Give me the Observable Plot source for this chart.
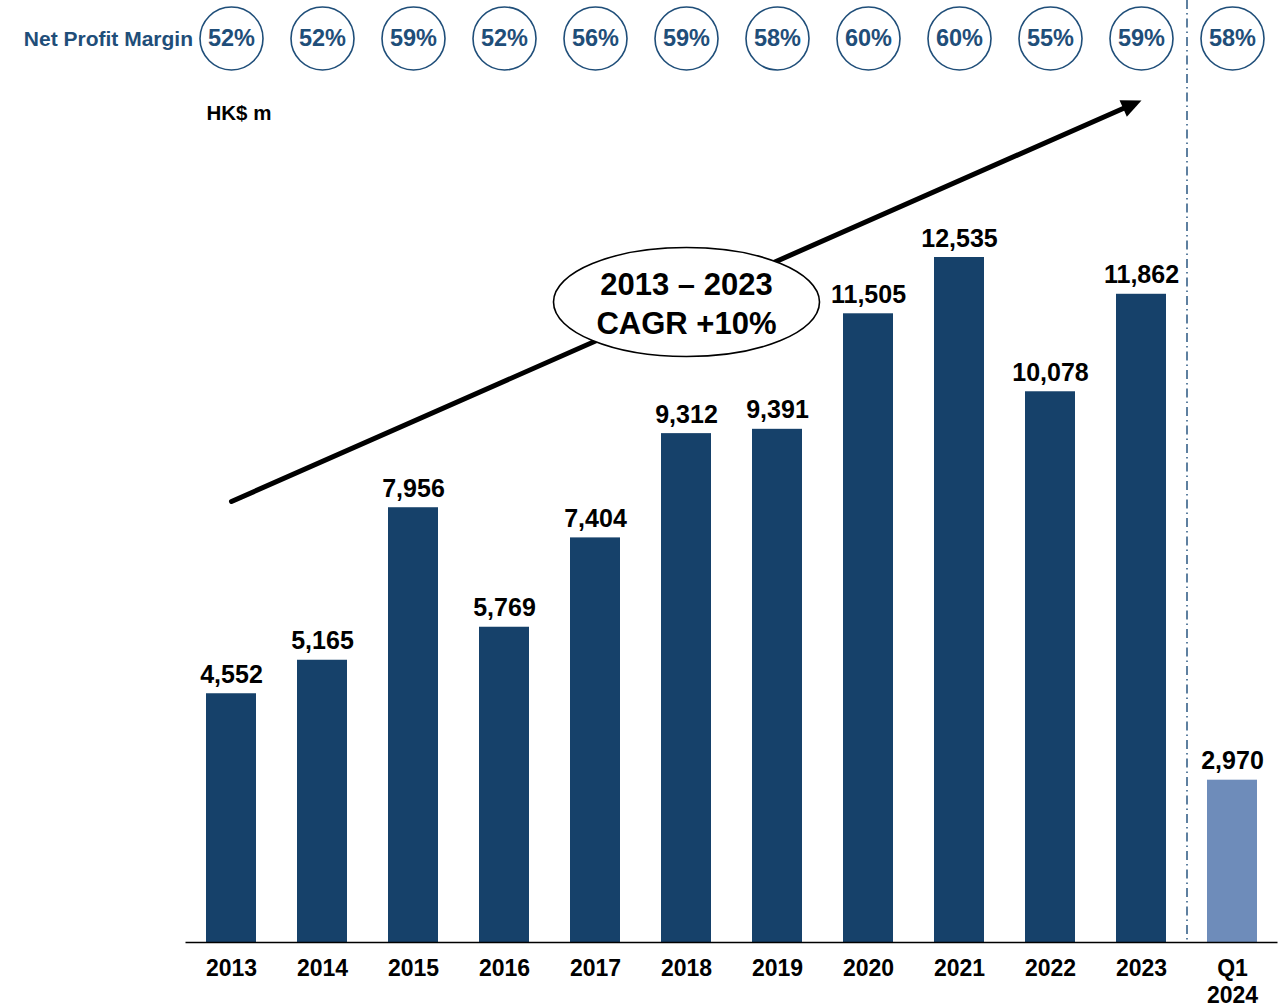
<!DOCTYPE html>
<html>
<head>
<meta charset="utf-8">
<script src="https://cdn.jsdelivr.net/npm/d3@7"></script>
<script src="https://cdn.jsdelivr.net/npm/@observablehq/plot@0.6"></script>
<style>
  html, body { margin: 0; padding: 0; background: #fff; }
  #chart svg { display: block; }
</style>
</head>
<body>
<div id="chart"></div>
<script>
// ---- data ----
const categories = ["2013", "2014", "2015", "2016", "2017", "2018", "2019", "2020", "2021", "2022", "2023", "Q1\n2024"];
const netProfit = [4552, 5165, 7956, 5769, 7404, 9312, 9391, 11505, 12535, 10078, 11862, 2970];
const netProfitMargin = [52, 52, 59, 52, 56, 59, 58, 60, 60, 55, 59, 58];
const periodType = ["year", "year", "year", "year", "year", "year", "year", "year", "year", "year", "year", "quarter"];
const marginLabel = "Net Profit Margin";
const unitLabel = "HK$ m";
const cagrText = "2013 \u2013 2023\nCAGR +10%";
// annotation anchors (category, value in HK$ m)
const cagrArrow = [{from: "2013", to: "2023", v1: 8070, v2: 15410}];
const cagrBubble = [{category: "2018", value: 11720}];

// ---- styles ----
const navy = "#16416a";
const lightBlue = "#6e8cba";
const ringBlue = "#1f4e79";
const fontFamily = "'Liberation Sans', Arial, Helvetica, sans-serif";

const rows = categories.map((c, i) => ({
  category: c,
  profit: netProfit[i],
  margin: netProfitMargin[i],
  period: periodType[i]
}));

// custom symbols
const ellipseSymbol = {
  draw(ctx) {
    const rx = 133, ry = 54.5, k = 0.5523;
    ctx.moveTo(rx, 0);
    ctx.bezierCurveTo(rx, ry * k, rx * k, ry, 0, ry);
    ctx.bezierCurveTo(-rx * k, ry, -rx, ry * k, -rx, 0);
    ctx.bezierCurveTo(-rx, -ry * k, -rx * k, -ry, 0, -ry);
    ctx.bezierCurveTo(rx * k, -ry, rx, -ry * k, rx, 0);
    ctx.closePath();
  }
};
const headSymbol = {
  draw(ctx) {
    const L = 20, W = 18;
    ctx.moveTo(0, 0);
    ctx.lineTo(-L, W / 2);
    ctx.lineTo(-L, -W / 2);
    ctx.closePath();
  }
};

const chart = Plot.plot({
  width: 1280,
  height: 1008,
  marginTop: 0,
  marginBottom: 66,
  marginLeft: 185.5,
  marginRight: 2.5,
  style: {fontFamily, background: "#fff", overflow: "visible"},
  x: {domain: categories, paddingInner: 0.45, paddingOuter: 0.225, label: null},
  y: {domain: [0, 17238], axis: null},
  marks: [
    // separator between annual and quarterly
    Plot.ruleX(["Q1\n2024"], {dx: -45.5, stroke: "#2a5781", strokeWidth: 1.5, strokeDasharray: "9,4,1.5,4"}),
    Plot.barY(rows, {
      x: "category",
      y: "profit",
      fill: d => d.period === "quarter" ? lightBlue : navy
    }),
    Plot.ruleY([0], {stroke: "#000", strokeWidth: 1.5}),
    Plot.text(rows, {
      x: "category",
      y: "profit",
      text: d => d3.format(",")(d.profit),
      lineAnchor: "bottom",
      dy: -11,
      fontSize: 25,
      fontWeight: "bold",
      fill: "#000"
    }),
    Plot.axisX({
      tickSize: 0,
      tickPadding: 14,
      fontSize: 23,
      fontWeight: "bold",
      lineHeight: 1.17,
      fill: "#000",
      label: null
    }),
    // CAGR arrow
    Plot.arrow(cagrArrow, {
      x1: "from", y1: "v1", x2: "to", y2: "v2",
      stroke: "#000", strokeWidth: 5, headLength: 0, insetEnd: 12
    }),
    Plot.dot(cagrArrow, {
      x: "to", y: "v2", symbol: headSymbol, r: 5, rotate: -23.8,
      fill: "#000", stroke: "none"
    }),
    // CAGR bubble
    Plot.dot(cagrBubble, {
      x: "category", y: "value", symbol: ellipseSymbol, r: 5,
      fill: "#fff", stroke: "#000", strokeWidth: 1.6
    }),
    Plot.text(cagrBubble, {
      x: "category", y: "value", text: () => cagrText,
      fontSize: 31, fontWeight: "bold", lineHeight: 1.26, fill: "#000"
    }),
    // Net profit margin row
    Plot.dot(rows, {
      x: "category", frameAnchor: "top", dy: 38, r: 31.5,
      stroke: ringBlue, strokeWidth: 1.6, fill: "#fff"
    }),
    Plot.text(rows, {
      x: "category", frameAnchor: "top", dy: 38, lineAnchor: "middle",
      text: d => d.margin + "%",
      fontSize: 23.5, fontWeight: "bold", fill: ringBlue
    }),
    Plot.text([marginLabel], {
      frameAnchor: "top-left", dx: 7, dy: 39, textAnchor: "end", lineAnchor: "middle",
      fontSize: 21, fontWeight: "bold", fill: ringBlue
    }),
    Plot.text([unitLabel], {
      frameAnchor: "top-left", dx: 20.5, dy: 113, textAnchor: "start", lineAnchor: "middle",
      fontSize: 20.5, fontWeight: "bold", fill: "#000"
    })
  ]
});

document.getElementById("chart").appendChild(chart);
</script>
</body>
</html>
